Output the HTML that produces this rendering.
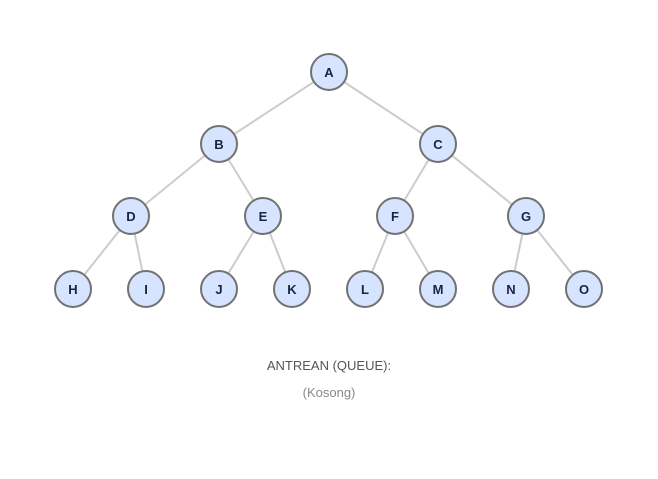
<!DOCTYPE html>
<html><head><style>body{margin:0;background:#fff}svg{display:block}</style></head><body>
<svg width="658" height="479" xmlns="http://www.w3.org/2000/svg">
<g stroke="#cccccc" stroke-width="2">
<line x1="329" y1="72" x2="219" y2="144"/><line x1="329" y1="72" x2="438" y2="144"/>
<line x1="219" y1="144" x2="131" y2="216"/><line x1="219" y1="144" x2="263" y2="216"/>
<line x1="438" y1="144" x2="395" y2="216"/><line x1="438" y1="144" x2="526" y2="216"/>
<line x1="131" y1="216" x2="73" y2="289"/><line x1="131" y1="216" x2="146" y2="289"/>
<line x1="263" y1="216" x2="219" y2="289"/><line x1="263" y1="216" x2="292" y2="289"/>
<line x1="395" y1="216" x2="365" y2="289"/><line x1="395" y1="216" x2="438" y2="289"/>
<line x1="526" y1="216" x2="511" y2="289"/><line x1="526" y1="216" x2="584" y2="289"/>
</g>
<g fill="#d6e4ff" stroke="#727272" stroke-width="2">
<circle cx="329" cy="72" r="18"/><circle cx="219" cy="144" r="18"/><circle cx="438" cy="144" r="18"/>
<circle cx="131" cy="216" r="18"/><circle cx="263" cy="216" r="18"/><circle cx="395" cy="216" r="18"/><circle cx="526" cy="216" r="18"/>
<circle cx="73" cy="289" r="18"/><circle cx="146" cy="289" r="18"/><circle cx="219" cy="289" r="18"/><circle cx="292" cy="289" r="18"/>
<circle cx="365" cy="289" r="18"/><circle cx="438" cy="289" r="18"/><circle cx="511" cy="289" r="18"/><circle cx="584" cy="289" r="18"/>
</g>
<g font-family="Liberation Sans, sans-serif" font-weight="bold" font-size="13" fill="#1a2340" text-anchor="middle">
<text x="329" y="77">A</text><text x="219" y="149">B</text><text x="438" y="149">C</text>
<text x="131" y="221">D</text><text x="263" y="221">E</text><text x="395" y="221">F</text><text x="526" y="221">G</text>
<text x="73" y="294">H</text><text x="146" y="294">I</text><text x="219" y="294">J</text><text x="292" y="294">K</text>
<text x="365" y="294">L</text><text x="438" y="294">M</text><text x="511" y="294">N</text><text x="584" y="294">O</text>
</g>
<text x="329" y="370" font-family="Liberation Sans, sans-serif" font-size="13" fill="#555" text-anchor="middle">ANTREAN (QUEUE):</text>
<text x="329" y="397" font-family="Liberation Sans, sans-serif" font-size="13" fill="#888" text-anchor="middle">(Kosong)</text>
</svg>
</body></html>
